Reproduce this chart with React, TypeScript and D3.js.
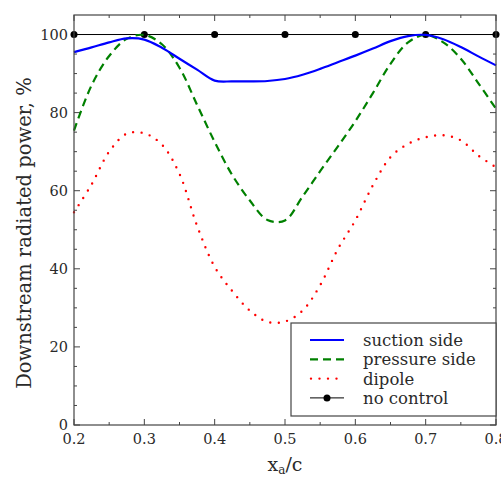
import * as d3 from 'd3';
import { useEffect, useRef } from 'react';

// x positions of the actuator, x_a/c
const xs = [0.2, 0.225, 0.25, 0.275, 0.3, 0.325, 0.35, 0.375, 0.4, 0.425, 0.45, 0.475, 0.5,
  0.525, 0.55, 0.575, 0.6, 0.625, 0.65, 0.675, 0.7, 0.725, 0.75, 0.775, 0.8];

const suction = [95.5, 96.7, 98.0, 99.0, 98.7, 96.6, 93.8, 91.0, 88.2, 88.0, 88.0, 88.1, 88.6,
  89.7, 91.2, 92.9, 94.6, 96.4, 98.3, 99.6, 99.9, 98.8, 96.8, 94.4, 92.1];

const pressure = [75.4, 87, 94.5, 98.9, 99.9, 97.5, 91.5, 82, 72.5, 64, 57.5, 52.5, 52.4,
  58.5, 65, 71.3, 77.8, 85, 92.5, 98, 99.9, 98, 93.8, 87.5, 81];

const dipole = [54.5, 61.6, 70, 74.6, 74.7, 71.8, 64.3, 51, 40.5, 34.3, 29.3, 26.4, 26.5,
  29.3, 35.8, 45, 52.4, 61.4, 68.6, 72, 73.7, 74.2, 72.9, 69, 66];

const noCtrlX = [0.2, 0.3, 0.4, 0.5, 0.6, 0.7, 0.8];
const noCtrl = [100, 100, 100, 100, 100, 100, 100];

const xTicks = [0.2, 0.3, 0.4, 0.5, 0.6, 0.7, 0.8];
const yTicks = [0, 20, 40, 60, 80, 100];

const W = 501, H = 477;
const FONT = 'DejaVu Serif';

export default function App() {
  const svgRef = useRef<SVGSVGElement>(null);

  useEffect(() => {
    drawChart(svgRef.current!);
  }, []);

  return (
    <svg ref={svgRef} width={W} height={H}
      style={{ position: 'absolute', left: 0, top: 0, background: '#fff' }} />
  );
}

function drawChart(el: SVGSVGElement) {
  const m = { l: 74, r: 496, t: 15, b: 425 };
  const svg = d3.select(el);
  svg.selectAll('*').remove();

  const x = d3.scaleLinear().domain([0.2, 0.8]).range([m.l, m.r]);
  const y = d3.scaleLinear().domain([0, 105]).range([m.b, m.t]);
  const axisCol = '#444';
  const textCol = '#2a2a2a';

  // ticks, inward on all four sides
  const ticks = svg.append('g').attr('stroke', axisCol).attr('stroke-width', 1);
  d3.range(0.2, 0.8001, 0.05).forEach((v, i) => {
    const len = i % 2 === 0 ? 6 : 3;
    ticks.append('line').attr('x1', x(v)).attr('x2', x(v)).attr('y1', m.b).attr('y2', m.b - len);
    ticks.append('line').attr('x1', x(v)).attr('x2', x(v)).attr('y1', m.t).attr('y2', m.t + len);
  });
  d3.range(0, 105, 5).forEach((v, i) => {
    const len = i % 4 === 0 ? 6 : 3;
    ticks.append('line').attr('y1', y(v)).attr('y2', y(v)).attr('x1', m.l).attr('x2', m.l + len);
    ticks.append('line').attr('y1', y(v)).attr('y2', y(v)).attr('x1', m.r).attr('x2', m.r - len);
  });

  const pts = (vals: number[]) => vals.map((v, i) => [xs[i], v] as [number, number]);
  const line = d3.line<[number, number]>()
    .x(d => x(d[0])).y(d => y(d[1]))
    .curve(d3.curveCatmullRom.alpha(0.5));

  // no control reference
  svg.append('path')
    .attr('d', d3.line<[number, number]>().x(d => x(d[0])).y(d => y(d[1]))(noCtrlX.map((v, i) => [v, noCtrl[i]])))
    .attr('fill', 'none').attr('stroke', '#000').attr('stroke-width', 1);
  svg.append('g').selectAll('circle').data(noCtrlX).enter().append('circle')
    .attr('cx', d => x(d)).attr('cy', (d, i) => y(noCtrl[i])).attr('r', 3.5).attr('fill', '#000');

  svg.append('path').attr('d', line(pts(dipole)))
    .attr('fill', 'none').attr('stroke', '#ff0000').attr('stroke-width', 2.4)
    .attr('stroke-dasharray', '0 8.5').attr('stroke-linecap', 'round');
  svg.append('path').attr('d', line(pts(pressure)))
    .attr('fill', 'none').attr('stroke', '#008000').attr('stroke-width', 2.2)
    .attr('stroke-dasharray', '8 5');
  svg.append('path').attr('d', line(pts(suction)))
    .attr('fill', 'none').attr('stroke', '#0000ff').attr('stroke-width', 2.2);

  // frame
  svg.append('rect').attr('x', m.l).attr('y', m.t).attr('width', m.r - m.l).attr('height', m.b - m.t)
    .attr('fill', 'none').attr('stroke', axisCol).attr('stroke-width', 1.2);

  // tick labels
  svg.append('g').selectAll('text').data(xTicks).enter().append('text')
    .attr('x', d => x(d)).attr('y', m.b + 19).attr('text-anchor', 'middle')
    .attr('font-family', FONT).attr('font-size', 14.5).attr('fill', textCol)
    .text(d => d.toFixed(1));
  svg.append('g').selectAll('text').data(yTicks).enter().append('text')
    .attr('x', m.l - 6).attr('y', d => y(d) + 5).attr('text-anchor', 'end')
    .attr('font-family', FONT).attr('font-size', 14.5).attr('fill', textCol)
    .text(d => String(d));

  // axis titles
  const xl = svg.append('text').attr('x', 285).attr('y', 471).attr('text-anchor', 'middle')
    .attr('font-family', FONT).attr('font-size', 19).attr('fill', textCol);
  xl.append('tspan').text('x');
  xl.append('tspan').attr('font-size', 12).attr('dy', 3).text('a');
  xl.append('tspan').attr('dy', -3).text('/c');

  svg.append('text')
    .attr('transform', `translate(31,233) rotate(-90)`)
    .attr('text-anchor', 'middle').attr('font-family', FONT).attr('font-size', 19.5)
    .attr('fill', textCol).text('Downstream radiated power, %');

  // legend
  const lg = svg.append('g');
  lg.append('rect').attr('x', 291).attr('y', 323).attr('width', 205).attr('height', 93)
    .attr('fill', '#fff').attr('stroke', axisCol).attr('stroke-width', 1.2);
  const items = [
    { name: 'suction side', col: '#0000ff', dash: null as string | null, dot: false },
    { name: 'pressure side', col: '#008000', dash: '8 5', dot: false },
    { name: 'dipole', col: '#ff0000', dash: '0 8.5', dot: false },
    { name: 'no control', col: '#000', dash: null, dot: true },
  ];
  items.forEach((it, i) => {
    const yy = 340 + i * 19.3;
    const ln = lg.append('line').attr('x1', 310).attr('x2', 344).attr('y1', yy).attr('y2', yy)
      .attr('stroke', it.col).attr('stroke-width', it.dot ? 1 : 2.2);
    if (it.dash) ln.attr('stroke-dasharray', it.dash);
    if (it.name === 'dipole') ln.attr('stroke-linecap', 'round').attr('stroke-width', 2.4).attr('x1', 311);
    if (it.dot) lg.append('circle').attr('cx', 327).attr('cy', yy).attr('r', 3.5).attr('fill', '#000');
    lg.append('text').attr('x', 363).attr('y', yy + 6).attr('font-family', FONT).attr('font-size', 16.5)
      .attr('fill', textCol).text(it.name);
  });
}
